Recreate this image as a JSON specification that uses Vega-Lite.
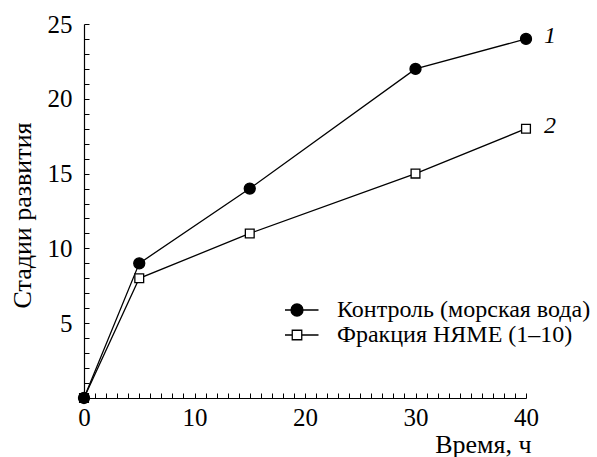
{
  "$schema": "https://vega.github.io/schema/vega-lite/v6.json",
  "width": 442,
  "height": 374,
  "autosize": "none",
  "padding": {"left": 84, "top": 24, "right": 71, "bottom": 59},
  "background": "white",
  "config": {
    "view": {"stroke": null},
    "font": "Liberation Serif",
    "axis": {
      "labelFont": "Liberation Serif",
      "labelFontSize": 25,
      "labelColor": "black",
      "titleFont": "Liberation Serif",
      "titleFontSize": 26,
      "titleFontWeight": "normal",
      "titleColor": "black",
      "domainColor": "black",
      "domainWidth": 1.2,
      "tickColor": "black",
      "tickWidth": 1,
      "grid": false
    }
  },
  "datasets": {
    "main": [
      {"series": "Фракция НЯМЕ (1–10)", "time": 0, "stage": 0},
      {"series": "Фракция НЯМЕ (1–10)", "time": 5, "stage": 8},
      {"series": "Фракция НЯМЕ (1–10)", "time": 15, "stage": 11},
      {"series": "Фракция НЯМЕ (1–10)", "time": 30, "stage": 15},
      {"series": "Фракция НЯМЕ (1–10)", "time": 40, "stage": 18},
      {"series": "Контроль (морская вода)", "time": 0, "stage": 0},
      {"series": "Контроль (морская вода)", "time": 5, "stage": 9},
      {"series": "Контроль (морская вода)", "time": 15, "stage": 14},
      {"series": "Контроль (морская вода)", "time": 30, "stage": 22},
      {"series": "Контроль (морская вода)", "time": 40, "stage": 24}
    ],
    "ends": [
      {"label": "1", "time": 40, "stage": 24},
      {"label": "2", "time": 40, "stage": 18}
    ]
  },
  "encoding": {
    "x": {
      "field": "time",
      "type": "quantitative",
      "scale": {"domain": [0, 40], "nice": false},
      "axis": {
        "title": "Время, ч",
        "values": [0,1,2,3,4,5,6,7,8,9,10,11,12,13,14,15,16,17,18,19,20,21,22,23,24,25,26,27,28,29,30,31,32,33,34,35,36,37,38,39,40],
        "labelExpr": "datum.value % 10 == 0 ? datum.label : ''",
        "tickSize": -5,
        "labelPadding": 12,
        "labelFlush": false,
        "labelOverlap": false,
        "titleX": 447,
        "titleY": 54,
        "titleAlign": "right",
        "titleBaseline": "alphabetic"
      }
    },
    "y": {
      "field": "stage",
      "type": "quantitative",
      "scale": {"domain": [0, 25], "nice": false},
      "axis": {
        "title": "Стадии развития",
        "values": [0,1,2,3,4,5,6,7,8,9,10,11,12,13,14,15,16,17,18,19,20,21,22,23,24,25],
        "labelExpr": "datum.value % 5 == 0 && datum.value > 0 ? datum.label : ''",
        "tickSize": -5,
        "labelPadding": 17,
        "labelFlush": false,
        "labelOverlap": false,
        "titleX": -54,
        "titleY": 191,
        "titleAngle": -90,
        "titleAlign": "center",
        "titleBaseline": "alphabetic"
      }
    }
  },
  "layer": [
    {
      "data": {"name": "main"},
      "mark": {"type": "line", "color": "black", "strokeWidth": 1.3},
      "encoding": {
        "detail": {"field": "series"}
      }
    },
    {
      "data": {"name": "main"},
      "mark": {"type": "point", "stroke": "black", "strokeWidth": 1.3, "opacity": 1, "size": 121},
      "encoding": {
        "shape": {
          "condition": {"test": "datum.series === 'Контроль (морская вода)'", "value": "circle"},
          "value": "M-0.8,-0.8H0.8V0.8H-0.8Z"
        },
        "fill": {
          "condition": {"test": "datum.series === 'Контроль (морская вода)'", "value": "black"},
          "value": "white"
        }
      }
    },
    {
      "data": {"name": "main"},
      "mark": {"type": "point", "filled": false, "size": 0, "strokeWidth": 1.3, "opacity": 1},
      "encoding": {
        "shape": {
          "field": "series",
          "type": "nominal",
          "scale": {"domain": ["Контроль (морская вода)", "Фракция НЯМЕ (1–10)"], "range": ["M-4.3,0H-1.2M1.2,0H4.3M-1.2,0A1.2,1.2 0 1,0 1.2,0A1.2,1.2 0 1,0 -1.2,0", "M-4.3,0H-0.95M0.95,0H4.3M-0.95,-0.95H0.95V0.95H-0.95Z"]},
          "legend": {
            "title": null,
            "orient": "none",
            "legendX": 201,
            "legendY": 276,
            "padding": 0,
            "labelFont": "Liberation Serif",
            "labelFontSize": 24,
            "labelColor": "black",
            "labelLimit": 0,
            "labelOffset": 28,
            "rowPadding": 1,
            "clipHeight": 20,
            "symbolSize": 100,
            "symbolOpacity": 1,
            "symbolStrokeWidth": 1.3
          }
        },
        "fill": {
          "field": "series",
          "type": "nominal",
          "scale": {"domain": ["Контроль (морская вода)", "Фракция НЯМЕ (1–10)"], "range": ["black", "white"]},
          "legend": {
            "title": null,
            "orient": "none",
            "legendX": 201,
            "legendY": 276,
            "padding": 0,
            "labelFont": "Liberation Serif",
            "labelFontSize": 24,
            "labelColor": "black",
            "labelLimit": 0,
            "labelOffset": 28,
            "rowPadding": 1,
            "clipHeight": 20,
            "symbolSize": 100,
            "symbolOpacity": 1,
            "symbolStrokeWidth": 1.3
          }
        },
        "stroke": {
          "field": "series",
          "type": "nominal",
          "scale": {"domain": ["Контроль (морская вода)", "Фракция НЯМЕ (1–10)"], "range": ["black", "black"]},
          "legend": {
            "title": null,
            "orient": "none",
            "legendX": 201,
            "legendY": 276,
            "padding": 0,
            "labelFont": "Liberation Serif",
            "labelFontSize": 24,
            "labelColor": "black",
            "labelLimit": 0,
            "labelOffset": 28,
            "rowPadding": 1,
            "clipHeight": 20,
            "symbolSize": 100,
            "symbolOpacity": 1,
            "symbolStrokeWidth": 1.3
          }
        }
      }
    },
    {
      "data": {"name": "ends"},
      "mark": {"type": "text", "align": "left", "baseline": "middle", "dx": 18, "dy": -3, "fontStyle": "italic", "fontSize": 24, "font": "Liberation Serif", "color": "black"},
      "encoding": {
        "text": {"field": "label"}
      }
    }
  ]
}
